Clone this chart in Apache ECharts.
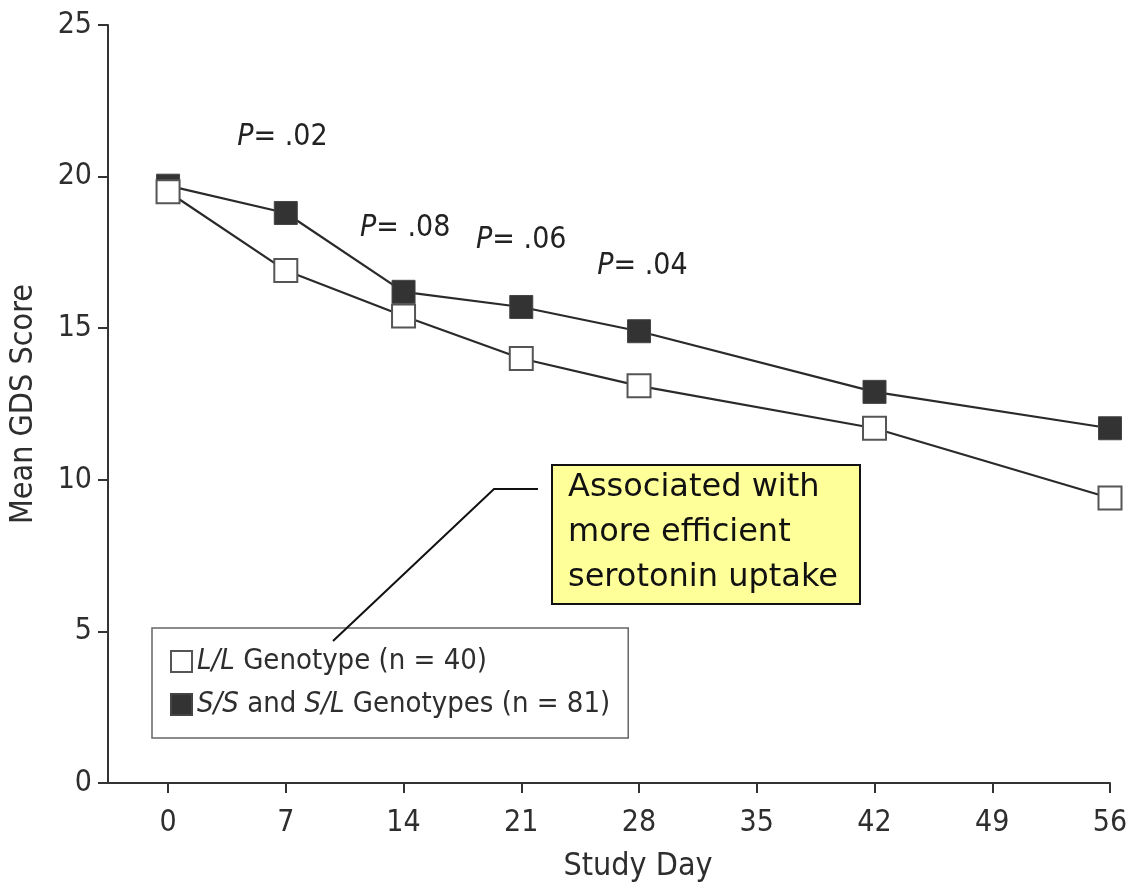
<!DOCTYPE html>
<html>
<head>
<meta charset="utf-8">
<script src="https://cdn.jsdelivr.net/npm/echarts@6/dist/echarts.min.js"></script>
<style>
  html, body { margin: 0; padding: 0; background: #fff; }
  #chart { width: 1128px; height: 888px; }
</style>
</head>
<body>
<div id="chart"></div>
<script>
// Study days and tick labels
const days = [0, 7, 14, 21, 28, 42, 56];
const dayTicks = [0, 7, 14, 21, 28, 35, 42, 49, 56];

// Mean GDS score per genotype group
const llScores = [19.5, 16.9, 15.4, 14.0, 13.1, 11.7, 9.4];
const ssScores = [19.7, 18.8, 16.2, 15.7, 14.9, 12.9, 11.7];

// Between-group P values, placed above the curves at a given day / score
const pValues = ['.02', '.08', '.06', '.04'];
const pDays = [6.8, 14.1, 21.0, 28.2];
const pHeights = [21.3, 18.3, 17.9, 17.05];

const LL_NAME = 'L/L Genotype (n = 40)';
const SS_NAME = 'S/S and S/L Genotypes (n = 81)';

const condensed = "'Liberation Sans Narrow', 'DejaVu Sans Condensed', 'Roboto Condensed', sans-serif";
const ink = '#2e2e2e';

const chart = echarts.init(document.getElementById('chart'));

const legendRich = {
  i: { fontStyle: 'italic', fontFamily: condensed, fontSize: 29, color: ink },
  n: { fontFamily: condensed, fontSize: 29, color: ink }
};

chart.setOption({
  animation: false,
  backgroundColor: '#fff',
  grid: { left: 108, right: 18, top: 25, bottom: 105, containLabel: false, outerBoundsMode: 'none' },
  xAxis: {
    type: 'value',
    min: -3.57,
    max: 56,
    name: 'Study Day',
    nameLocation: 'middle',
    nameGap: 68,
    nameTextStyle: { fontFamily: condensed, fontSize: 32, color: ink, padding: [0, 0, 0, 58] },
    axisLine: { show: true, onZero: false, lineStyle: { color: '#333', width: 2 } },
    axisTick: { show: true, length: 10, customValues: dayTicks, lineStyle: { color: '#333', width: 2 } },
    axisLabel: { customValues: dayTicks, margin: 25, fontFamily: condensed, fontSize: 30, color: ink },
    splitLine: { show: false }
  },
  yAxis: {
    type: 'value',
    min: 0,
    max: 25,
    interval: 5,
    name: 'Mean GDS Score',
    nameLocation: 'middle',
    nameGap: 68,
    nameRotate: 90,
    nameTextStyle: { fontFamily: condensed, fontSize: 32, color: ink },
    axisLine: { show: true, onZero: false, lineStyle: { color: '#333', width: 2 } },
    axisTick: { show: true, length: 10, lineStyle: { color: '#333', width: 2 } },
    axisLabel: { margin: 16, fontFamily: condensed, fontSize: 30, color: ink },
    splitLine: { show: false }
  },
  legend: {
    data: [LL_NAME, SS_NAME],
    orient: 'vertical',
    left: 152,
    top: 628,
    padding: [19, 18, 19, 18],
    itemGap: 14,
    itemWidth: 21,
    itemHeight: 21,
    icon: 'rect',
    borderColor: '#666',
    borderWidth: 1.5,
    textStyle: { fontFamily: condensed, fontSize: 29, color: ink, rich: legendRich },
    formatter: function (name) {
      if (name === LL_NAME) return '{i|L/L}{n| Genotype (n = 40)}';
      return '{i|S/S}{n| and }{i|S/L}{n| Genotypes (n = 81)}';
    }
  },
  series: [
    {
      name: SS_NAME,
      type: 'line',
      data: days.map((d, k) => [d, ssScores[k]]),
      symbol: 'rect',
      symbolSize: 23,
      lineStyle: { color: '#2a2a2a', width: 2.2 },
      itemStyle: { color: '#333', borderColor: '#444', borderWidth: 1 },
      z: 2
    },
    {
      name: LL_NAME,
      type: 'line',
      data: days.map((d, k) => [d, llScores[k]]),
      symbol: 'rect',
      symbolSize: 23,
      lineStyle: { color: '#2a2a2a', width: 2.2 },
      itemStyle: { color: '#fff', borderColor: '#555', borderWidth: 2 },
      z: 3
    },
    {
      name: 'pvalues',
      type: 'scatter',
      data: pDays.map((d, k) => ({ value: [d, pHeights[k]], p: pValues[k] })),
      symbolSize: 0,
      silent: true,
      itemStyle: { opacity: 1 },
      label: {
        show: true,
        position: 'inside',
        formatter: function (p) { return '{i|P}{n|= ' + p.data.p + '}'; },
        rich: {
          i: { fontStyle: 'italic', fontFamily: condensed, fontSize: 30, color: '#222' },
          n: { fontFamily: condensed, fontSize: 30, color: '#222' }
        }
      },
      z: 4
    }
  ],
  graphic: [
    {
      type: 'polyline',
      shape: { points: [[333, 641], [494, 489], [538, 489]] },
      style: { stroke: '#111', lineWidth: 2, fill: null },
      z: 10
    },
    {
      type: 'rect',
      shape: { x: 552, y: 465, width: 308, height: 139 },
      style: { fill: '#ffff99', stroke: '#111', lineWidth: 2 },
      z: 10
    },
    {
      type: 'text',
      x: 568,
      y: 465,
      style: {
        text: 'Associated with\nmore efficient\nserotonin uptake',
        fontFamily: "'DejaVu Sans', Verdana, sans-serif",
        fontSize: 32,
        lineHeight: 45,
        fill: '#111'
      },
      z: 11
    }
  ]
});
</script>
</body>
</html>
